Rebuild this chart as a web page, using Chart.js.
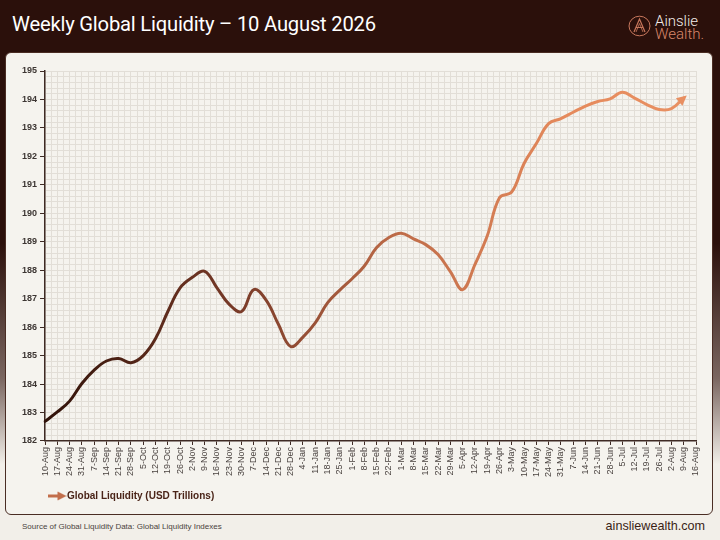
<!DOCTYPE html>
<html>
<head>
<meta charset="utf-8">
<script src="https://cdn.jsdelivr.net/npm/chart.js@4.4.0/dist/chart.umd.min.js"></script>
<style>
html, body { margin: 0; padding: 0; }
body {
  width: 720px; height: 540px; overflow: hidden; position: relative;
  font-family: "Liberation Sans", Arial, sans-serif;
  background: linear-gradient(to bottom, #2b100b 0%, #2b100b 45%, #7a6660 70%, #f2efe9 86%, #f2efe9 100%);
}
#title { position: absolute; left: 12px; top: 12px; color: #fff; font-family: Roboto, "Liberation Sans", sans-serif; font-size: 20.2px; font-weight: 400; letter-spacing: -0.2px; }
#logo { position: absolute; left: 628px; top: 14px; }
#logo svg { position: absolute; left: 0; top: 1px; }
#logo .t1, #logo .t2 { position: absolute; left: 27px; font-family: Roboto, "Liberation Sans", sans-serif; font-size: 15px; line-height: 13px; font-weight: 300; }
#logo .t1 { top: 1px; color: #f3ece8; }
#logo .t2 { top: 14px; color: #d9876a; }
#card { position: absolute; left: 5px; top: 52px; width: 706px; height: 461px; background: #f5f3ee; border: 1.5px solid #4a2d24; border-radius: 6px; }
#card canvas { position: absolute; left: 0; top: 0; }
#source { position: absolute; left: 22px; top: 522px; font-size: 8px; color: #4a4340; }
#site { position: absolute; right: 15px; top: 519px; font-size: 12.6px; color: #3a1e16; }
</style>
</head>
<body>
<div id="title">Weekly Global Liquidity – 10 August 2026</div>
<div id="logo">
  <svg width="24" height="22" viewBox="0 0 24 22">
    <ellipse cx="11.5" cy="11" rx="10.5" ry="9.8" fill="none" stroke="#c7775c" stroke-width="1"/>
    <path d="M6 17 L11.5 4 L17 17 M8.3 12.5 L14.7 12.5" fill="none" stroke="#c7775c" stroke-width="1.2"/>
    <path d="M8 17 L11.5 8.5 L15 17" fill="none" stroke="#c7775c" stroke-width="0.8"/>
  </svg>
  <div class="t1">Ainslie</div>
  <div class="t2">Wealth.</div>
</div>
<div id="card"><canvas id="myChart" width="706" height="461"></canvas></div>
<div id="source">Source of Global Liquidity Data: Global Liquidity Indexes</div>
<div id="site">ainsliewealth.com</div>

<script>
// nhãn tuần (10-Aug đến 16-Aug năm sau)
var weeks = ["10-Aug","17-Aug","24-Aug","31-Aug","7-Sep","14-Sep","21-Sep","28-Sep","5-Oct","12-Oct","19-Oct","26-Oct",
  "2-Nov","9-Nov","16-Nov","23-Nov","30-Nov","7-Dec","14-Dec","21-Dec","28-Dec","4-Jan","11-Jan","18-Jan","25-Jan",
  "1-Feb","8-Feb","15-Feb","22-Feb","1-Mar","8-Mar","15-Mar","22-Mar","29-Mar","5-Apr","12-Apr","19-Apr","26-Apr",
  "3-May","10-May","17-May","24-May","31-May","7-Jun","14-Jun","21-Jun","28-Jun","5-Jul","12-Jul","19-Jul","26-Jul",
  "2-Aug","9-Aug","16-Aug"];

// USD Trillions
var liquidity = [182.69,183.02,183.40,184.02,184.49,184.81,184.90,184.75,185.00,185.60,186.55,187.38,
  187.75,187.96,187.38,186.80,186.55,187.32,186.95,186.10,185.32,185.65,186.15,186.85,187.30,
  187.70,188.15,188.80,189.15,189.30,189.10,188.90,188.55,187.95,187.32,188.20,189.20,190.55,
  190.75,191.75,192.45,193.15,193.33,193.55,193.77,193.93,194.02,194.25,194.05,193.82,193.65,
  193.68,194.05,null];

var yMin = 182, yMax = 195;
var seriesName = "Global Liquidity (USD Trillions)";

var axisColor = "#3e2a24";
var gridColor = "#e2ded7";

function isWhole(v) { return Math.abs(v - Math.round(v)) < 1e-6; }

// icon mũi tên cho legend
function arrowIcon() {
  var c = document.createElement("canvas");
  c.width = 19; c.height = 10;
  var g = c.getContext("2d");
  g.strokeStyle = "#c26e4b"; g.fillStyle = "#c26e4b";
  g.lineWidth = 3;
  g.beginPath(); g.moveTo(0, 5); g.lineTo(12, 5); g.stroke();
  g.beginPath(); g.moveTo(19, 5); g.lineTo(10, 0.5); g.lineTo(10, 9.5); g.closePath(); g.fill();
  return c;
}

function lineGradient(chart) {
  var a = chart.chartArea;
  if (!a) return "#8a4530";
  var gr = chart.ctx.createLinearGradient(a.left, 0, a.right, 0);
  gr.addColorStop(0, "#301209");
  gr.addColorStop(0.3, "#7a3b28");
  gr.addColorStop(0.55, "#c06d49");
  gr.addColorStop(0.8, "#e58a5c");
  gr.addColorStop(1, "#e99163");
  return gr;
}

// vẽ đầu mũi tên ở điểm cuối
var arrowHead = {
  id: "arrowHead",
  afterDatasetsDraw: function(chart) {
    var pts = chart.getDatasetMeta(0).data;
    var last = -1;
    for (var k = 0; k < liquidity.length; k++) if (liquidity[k] !== null) last = k;
    var p = pts[last], q = pts[last - 1];
    var dx = p.x - (p.cp1x !== undefined ? p.cp1x : q.x);
    var dy = p.y - (p.cp1y !== undefined ? p.cp1y : q.y);
    var ang = Math.atan2(dy, dx);
    var ctx = chart.ctx;
    ctx.save();
    ctx.translate(p.x, p.y);
    ctx.rotate(ang);
    ctx.fillStyle = "#e88f61";
    ctx.beginPath();
    ctx.moveTo(4, 0);
    ctx.lineTo(-6, -5);
    ctx.lineTo(-6, 5);
    ctx.closePath();
    ctx.fill();
    ctx.restore();
  }
};

var legendShift = {
  id: "legendShift",
  afterLayout: function(chart) { chart.legend.left += 21; }
};

var update = new Chart("myChart", {
  type: "line",
  data: {
    labels: weeks,
    datasets: [{
      label: seriesName,
      data: liquidity,
      borderColor: function(ctx) { return lineGradient(ctx.chart); },
      backgroundColor: "#c26e4b",
      borderWidth: 3,
      pointRadius: 0,
      tension: 0.4,
      borderCapStyle: "round",
      pointStyle: arrowIcon()
    }]
  },
  options: {
    responsive: false,
    animation: false,
    layout: { padding: { left: 13, right: 16, top: 18, bottom: 3 } },
    scales: {
      x: {
        type: "category",
        offset: false,
        grid: { drawOnChartArea: false, tickColor: axisColor, tickLength: 4, tickWidth: 1 },
        border: { color: axisColor, width: 1.5 },
        ticks: { autoSkip: false, maxRotation: 90, minRotation: 90, padding: 2,
          color: "#4a4340", font: { family: "Liberation Sans", size: 9 } }
      },
      xMinor: {
        type: "linear",
        position: "top",
        min: 0, max: weeks.length - 1,
        ticks: { display: false, stepSize: 0.5 },
        grid: { color: gridColor, lineWidth: 1, drawTicks: false },
        border: { display: false }
      },
      y: {
        min: yMin, max: yMax,
        ticks: {
          stepSize: 0.2, autoSkip: false, padding: 3,
          color: "#3d3633", font: { family: "Liberation Sans", size: 9, weight: "bold" },
          callback: function(v) { return isWhole(v) ? Math.round(v) : ""; }
        },
        grid: {
          color: gridColor, lineWidth: 1, tickLength: 5,
          tickColor: function(c) { return isWhole(c.tick.value) ? axisColor : "rgba(0,0,0,0)"; }
        },
        border: { color: axisColor, width: 1.5 }
      }
    },
    plugins: {
      legend: {
        position: "bottom", align: "start",
        labels: { usePointStyle: true, boxWidth: 19, boxHeight: 10, padding: 12,
          color: "#4a2418", font: { family: "Liberation Sans", size: 10, weight: "bold" } }
      },
      tooltip: { enabled: false }
    }
  },
  plugins: [arrowHead, legendShift]
});
</script>
</body>
</html>
